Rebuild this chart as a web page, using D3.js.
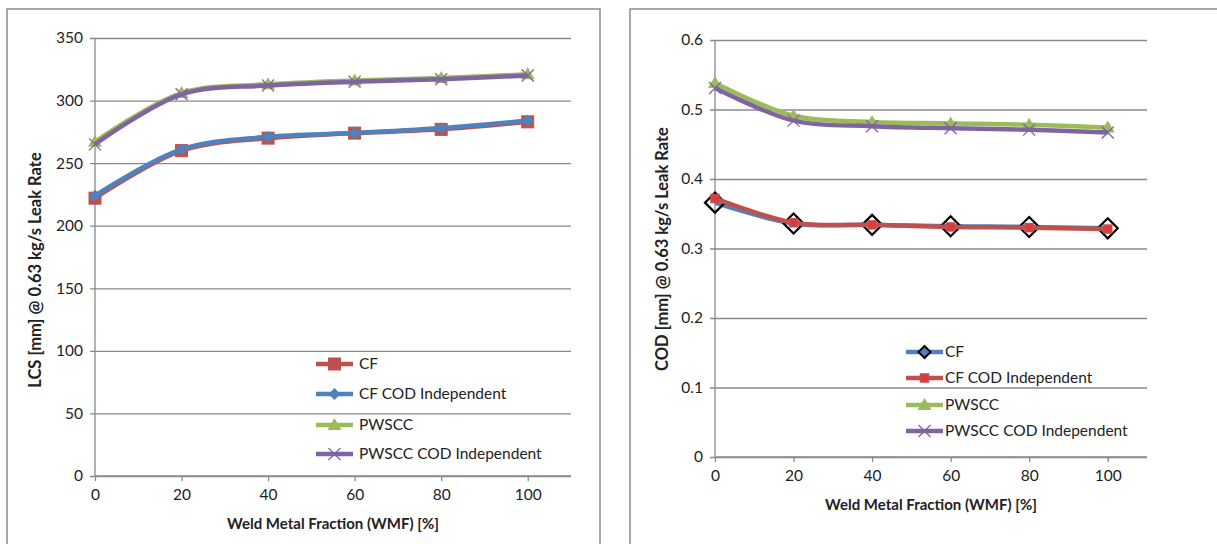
<html>
<head>
<meta charset="utf-8">
<style>
  body { margin:0; background:#fff; }
  text { font-family: Lato, "Open Sans", sans-serif; fill:#222; }
</style>
<script src="https://d3js.org/d3.v7.min.js" charset="utf-8"></script>
</head>
<body>
<svg id="chart" width="1217" height="544"></svg>
<script>
    // data
    var wmf = [0, 20, 40, 60, 80, 100];
    var xTicks = [0, 20, 40, 60, 80, 100];

    var lcsCF        = [222, 260, 270, 274, 277, 283];
    var lcsCFInd     = [224, 261, 271, 274, 278, 284];
    var lcsPWSCC     = [267, 306, 313, 316, 318, 321];
    var lcsPWSCCInd  = [265, 305, 312, 315, 317, 320];
    var lcsTicks = [0, 50, 100, 150, 200, 250, 300, 350];

    var codCF        = [0.366, 0.336, 0.334, 0.332, 0.331, 0.329];
    var codCFInd     = [0.372, 0.337, 0.334, 0.331, 0.330, 0.328];
    var codPWSCC     = [0.538, 0.491, 0.482, 0.480, 0.478, 0.474];
    var codPWSCCInd  = [0.531, 0.484, 0.476, 0.473, 0.471, 0.467];
    var codTicks = [0, 0.1, 0.2, 0.3, 0.4, 0.5, 0.6];

    var red = "#C0504D", blue = "#4F81BD", green = "#9BBB59", purple = "#8064A2";
    var gridCol = "#8a8a8a";

    var svg = d3.select("#chart");

    // panel borders (run off the bottom / right of the picture)
    svg.append("rect").attr("x", 7).attr("y", 9).attr("width", 593).attr("height", 560)
        .attr("fill", "none").attr("stroke", "#8c8c8c").attr("stroke-width", 1.5);
    svg.append("rect").attr("x", 630).attr("y", 9).attr("width", 620).attr("height", 560)
        .attr("fill", "none").attr("stroke", "#8c8c8c").attr("stroke-width", 1.5);

    //************************************************************
    // marker shapes
    //************************************************************
    function drawMarker(g, type, x, y, col) {
        if (type == "square") {
            g.append("rect").attr("x", x - 6).attr("y", y - 6).attr("width", 12).attr("height", 12)
                .attr("fill", col).attr("stroke", col).attr("stroke-width", 1);
        } else if (type == "smallsquare") {
            g.append("rect").attr("x", x - 4).attr("y", y - 4).attr("width", 8).attr("height", 8)
                .attr("fill", "#e0393b").attr("stroke", col).attr("stroke-width", 1.5);
        } else if (type == "diamond") {
            g.append("path").attr("d", d3.symbol().type(d3.symbolDiamond2).size(90)())
                .attr("transform", "translate(" + x + "," + y + ")").attr("fill", col);
        } else if (type == "odiamond") {
            g.append("path").attr("d", "M0,-10L10,0L0,10L-10,0Z")
                .attr("transform", "translate(" + x + "," + y + ")")
                .attr("fill", "none").attr("stroke", "#000").attr("stroke-width", 2.2);
        } else if (type == "odiamondSmall") {
            g.append("path").attr("d", "M0,-6L6,0L0,6L-6,0Z")
                .attr("transform", "translate(" + x + "," + y + ")")
                .attr("fill", col).attr("stroke", "#000").attr("stroke-width", 2);
        } else if (type == "triangle") {
            g.append("path").attr("d", "M0,-7L7,5L-7,5Z")
                .attr("transform", "translate(" + x + "," + y + ")").attr("fill", col);
        } else if (type == "cross") {
            g.append("path").attr("d", "M-6,-6L6,6M-6,6L6,-6")
                .attr("transform", "translate(" + x + "," + y + ")")
                .attr("stroke", col).attr("stroke-width", 1.3).attr("fill", "none");
        }
    }

    //************************************************************
    // one panel
    //************************************************************
    function drawPanel(cfg) {
        var x = d3.scaleLinear().domain([0, 110]).range(cfg.xr);
        var y = d3.scaleLinear().domain(cfg.yd).range(cfg.yr);
        var g = svg.append("g");

        // gridlines + y axis
        var yAxis = d3.axisLeft(y).tickValues(cfg.yTicks)
            .tickSize(-(cfg.xr[1] - cfg.xr[0])).tickPadding(12)
            .tickFormat(cfg.fmt);
        var ya = g.append("g").attr("transform", "translate(" + cfg.xr[0] + ",0)").call(yAxis);
        ya.select(".domain").remove();
        ya.selectAll("line").attr("stroke", gridCol).attr("stroke-width", 1.3).attr("x1", -5);
        ya.selectAll("text").attr("font-size", 15.5).attr("fill", "#222")
            .style("font-family", "Lato, sans-serif");
        g.append("line").attr("x1", cfg.xr[0]).attr("x2", cfg.xr[0])
            .attr("y1", cfg.yr[1]).attr("y2", cfg.yr[0])
            .attr("stroke", gridCol).attr("stroke-width", 1.3);

        // x axis
        var xAxis = d3.axisBottom(x).tickValues(xTicks).tickSize(5).tickPadding(8);
        var xa = g.append("g").attr("transform", "translate(0," + cfg.yr[0] + ")").call(xAxis);
        xa.select(".domain").attr("stroke", gridCol).attr("stroke-width", 1.3)
            .attr("d", "M" + cfg.xr[0] + ",0H" + cfg.xr[1]);
        xa.selectAll("line").attr("stroke", gridCol).attr("stroke-width", 1.3);
        xa.selectAll("text").attr("font-size", 15.5).attr("fill", "#222")
            .style("font-family", "Lato, sans-serif");

        // axis titles
        g.append("text").attr("x", (cfg.xr[0] + cfg.xr[1]) / 2).attr("y", cfg.xTitleY)
            .attr("text-anchor", "middle").attr("font-size", 15).attr("font-weight", "bold")
            .text("Weld Metal Fraction (WMF) [%]");
        g.append("text")
            .attr("transform", "translate(" + cfg.yTitleX + "," + cfg.yTitleY + ") rotate(-90)")
            .attr("text-anchor", "middle").attr("font-size", 16.5).attr("font-weight", "bold")
            .text(cfg.yTitle);

        // series
        var line = d3.line()
            .x(function(d, i) { return x(wmf[i]); })
            .y(function(d) { return y(d); })
            .curve(d3.curveCatmullRom);

        cfg.series.forEach(function(s) {
            g.append("path").datum(s.values).attr("d", line)
                .attr("fill", "none").attr("stroke", s.color).attr("stroke-width", 4.5)
                .attr("stroke-linejoin", "round");
            s.values.forEach(function(v, i) {
                drawMarker(g, s.marker, x(wmf[i]), y(v), s.color);
            });
        });

        // legend
        cfg.series.forEach(function(s, i) {
            var ly = cfg.legY[i];
            g.append("line").attr("x1", cfg.legX).attr("x2", cfg.legX + 37)
                .attr("y1", ly).attr("y2", ly)
                .attr("stroke", s.color).attr("stroke-width", 4.5);
            drawMarker(g, s.legMarker || s.marker, cfg.legX + 18.5, ly, s.color);
            g.append("text").attr("x", cfg.legTextX).attr("y", ly).attr("dy", "0.35em")
                .attr("font-size", 15.5).text(s.name);
        });
    }

    drawPanel({
        xr: [95, 571], yr: [476, 38], yd: [0, 350], yTicks: lcsTicks,
        fmt: d3.format("d"),
        xTitleY: 529, yTitleX: 41, yTitleY: 270,
        yTitle: "LCS [mm] @ 0.63 kg/s Leak Rate",
        legX: 316, legTextX: 359, legY: [364, 394, 425, 454],
        series: [
            { name: "CF", values: lcsCF, color: red, marker: "square" },
            { name: "CF COD Independent", values: lcsCFInd, color: blue, marker: "diamond" },
            { name: "PWSCC", values: lcsPWSCC, color: green, marker: "triangle" },
            { name: "PWSCC COD Independent", values: lcsPWSCCInd, color: purple, marker: "cross" }
        ]
    });

    drawPanel({
        xr: [715, 1147], yr: [457, 40], yd: [0, 0.6], yTicks: codTicks,
        fmt: function(d) { return d === 0 ? "0" : d3.format(".1f")(d); },
        xTitleY: 510, yTitleX: 668, yTitleY: 249,
        yTitle: "COD [mm] @ 0.63 kg/s Leak Rate",
        legX: 906, legTextX: 945, legY: [352, 378, 405, 431],
        series: [
            { name: "CF", values: codCF, color: blue, marker: "odiamond", legMarker: "odiamondSmall" },
            { name: "CF COD Independent", values: codCFInd, color: red, marker: "smallsquare" },
            { name: "PWSCC", values: codPWSCC, color: green, marker: "triangle" },
            { name: "PWSCC COD Independent", values: codPWSCCInd, color: purple, marker: "cross" }
        ]
    });
</script>
</body>
</html>
